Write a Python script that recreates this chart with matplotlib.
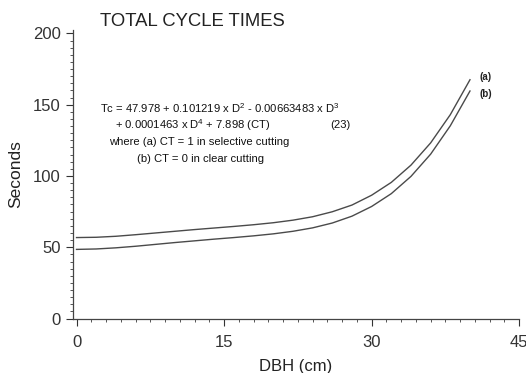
import matplotlib.pyplot as plt
from matplotlib.ticker import MultipleLocator

plt.rcParams['font.family'] = ['Liberation Sans', 'DejaVu Sans']
plt.rcParams['mathtext.default'] = 'regular'

# DBH (cm) and total cycle time (s)
dbh = [0, 2, 4, 6, 8, 10, 12, 14, 16, 18, 20, 22, 24, 26, 28, 30, 32, 34, 36, 38, 40]
tc_selective = [56.8, 57.0, 57.7, 58.8, 60.0, 61.2, 62.4, 63.5, 64.6, 65.8, 67.2,
                69.0, 71.4, 74.9, 79.6, 86.5, 95.5, 107.6, 123.2, 143.0, 167.5]
tc_clear = [48.5, 48.8, 49.6, 50.7, 52.0, 53.3, 54.5, 55.7, 56.8, 58.0, 59.4,
            61.2, 63.6, 67.0, 71.8, 78.6, 87.6, 99.7, 115.3, 135.2, 159.6]
curve_labels = ["(a)", "(b)"]

fig = plt.figure(figsize=(5.26, 3.73), dpi=100)
ax = fig.add_axes([0.138, 0.146, 0.849, 0.774])

line_col = "#4a4a4a"
ax.plot(dbh, tc_selective, color=line_col, lw=1.0)
ax.plot(dbh, tc_clear, color=line_col, lw=1.0)

# curve tags just past the line ends
ax.text(dbh[-1] + 1.0, tc_selective[-1] + 2, curve_labels[0], fontsize=7, fontweight="bold",
        color="#222222", va="center")
ax.text(dbh[-1] + 1.0, tc_clear[-1] - 2, curve_labels[1], fontsize=7, fontweight="bold",
        color="#222222", va="center")

ax.set_xlim(-0.4, 45)
ax.set_ylim(0, 202.5)
ax.xaxis.set_major_locator(MultipleLocator(15))
ax.xaxis.set_minor_locator(MultipleLocator(1.5))
ax.yaxis.set_major_locator(MultipleLocator(50))
ax.yaxis.set_minor_locator(MultipleLocator(5))
ax.tick_params(which="major", length=5, width=0.8, labelsize=12, colors="#333333")
ax.tick_params(axis="x", which="major", pad=7)
ax.tick_params(which="minor", length=2.5, width=0.7, colors="#555555")

for s in ("top", "right"):
    ax.spines[s].set_visible(False)
for s in ("left", "bottom"):
    ax.spines[s].set_color("#444444")
    ax.spines[s].set_linewidth(0.9)

ax.set_xlabel("DBH (cm)", fontsize=12, color="#222222", labelpad=6)
ax.set_ylabel("Seconds", fontsize=12.5, color="#222222", labelpad=7)

fig.text(100 / 526, 1 - 21 / 373, "TOTAL CYCLE TIMES", fontsize=13.3, color="#222222", va="center")

eq_kw = dict(fontsize=8.1, color="#111111", va="center")
fig.text(100 / 526, 1 - 108 / 373, "Tc = 47.978 + 0.101219 x D$^2$ - 0.00663483 x D$^3$", **eq_kw)
fig.text(115 / 526, 1 - 125 / 373, "+ 0.0001463 x D$^4$ + 7.898 (CT)", **eq_kw)
fig.text(330 / 526, 1 - 125 / 373, "(23)", **eq_kw)
fig.text(109 / 526, 1 - 142 / 373, "where (a) CT = 1 in selective cutting", **eq_kw)
fig.text(137 / 526, 1 - 159 / 373, "(b) CT = 0 in clear cutting", **eq_kw)

fig.savefig("out.png", dpi=100)
